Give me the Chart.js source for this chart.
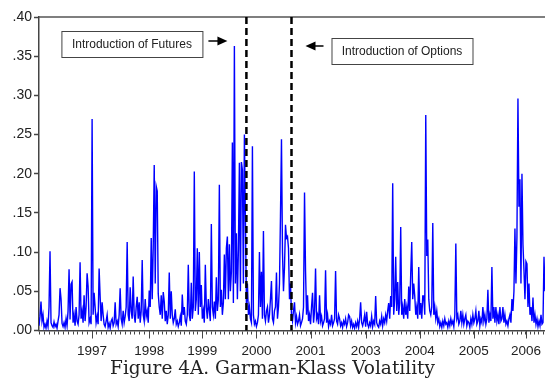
<!DOCTYPE html>
<html>
<head>
<meta charset="utf-8">
<script src="https://cdn.jsdelivr.net/npm/chart.js@4.4.1/dist/chart.umd.min.js"></script>
<style>
  body { margin: 0; background: #fff; }
  canvas { display: block; }
</style>
</head>
<body>
<canvas id="volChart" width="545" height="379"></canvas>
<script>
// Garman-Klass volatility, one value per sample (1996 - 2006)
const volatility = [
    // 1996
    .006,.018,.037,.012,.020,.004,.008,.003,.012,.005,
    .030,.101,.010,.006,.004,.011,.005,.008,.003,.012,
    .020,.054,.040,.009,.005,.010,.004,.015,.006,.025,
    .078,.014,.059,.062,.010,.020,.006,.030,.012,.008,
    .020,.087,.015,.025,.010,.045,.012,.030,.073,.056,
    .010,.015,.008,
    // 1997
    .270,.020,.048,.030,.010,.018,.008,
    .079,.044,.012,.036,
    .020,.008,.005,.012,.020,.004,.009,.003,.012,.015,
    .006,.010,.036,.008,.012,.005,.020,.054,.015,.008,
    .025,.010,.018,.030,.113,.020,.012,.055,.025,.015,
    .069,.020,.010,.030,.043,.015,.036,.010,.025,.090,
    .020,.012,.040,.018,.025,.010,.051,
    // 1998
    .030,.118,.040,
    .107,.211,.060,.184,.178,.047,.030,.020,.045,.015,
    .049,
    .037,.012,.025,.008,.020,.074,.015,.050,.020,.010,
    .015,.027,.008,.012,.005,.010,.018,.006,.046,.020,
    .030,.012,.008,.020,.084,.020,.012,.061,.015,.030,
    .203,.025,.040,.105,.020,.100,.030,.058,.015,.025,
    // 1999
    .010,.084,.030,.015,.040,.025,.012,.136,.030,.020,
    .037,.015,.068,.025,.040,.186,.030,.052,.020,.035,
    .097,.040,.105,
    .120,.040,.110,.050,.075,.240,.035,.363,.060,.124,
    .040,.103,.214,.050,.215,.205,.060,.250,.140,.035,
    .060,.020,.030,.015,.010,.235,.020,.008,.012,.005,
    // 2000
    .010,.020,.100,.030,.075,.015,.127,.020,.012,.025,
    .030,.010,.020,.040,.063,.015,.010,.025,.030,.074,
    .015,.030,.060,.146,.244,.100,.050,.080,.135,.118,
    .120,
    .105,.040,.060,.020,.012,.025,.036,.010,.018,.008,
    .012,.020,.006,.010,.015,.030,.176,.077,.020,.045,
    .012,.020,.008,.030,.048,.010,.025,.079,.015,.020,
    // 2001
    .008,.045,.012,.018,.006,.010,.015,.077,.010,.020,
    .005,.012,.008,.020,.006,.010,.015,.076,.012,.008,
    .020,.015,.006,.010,.004,.012,.008,.015,.005,.010,
    .020,.018,.006,
    .012,.004,.008,.003,.010,.005,.012,.004,.015,.036,
    .010,.006,.012,.020,.005,.024,.008,.004,.010,.006,
    // 2003
    .018,.005,.012,.008,.044,.010,.006,.004,.012,.008,
    .018,.006,.015,.010,.020,.012,.025,.035,.015,.044,
    .030,.188,.020,.040,.094,.025,.062,.020,.035,.132,
    .020,.030,.015,.040,.020,.030,.015,.056,.025,.073,
    .113,
    .040,.060,.044,.020,.030,.015,.081,.020,.035,.015,
    // 2004
    .044,.044,.020,.275,.095,.116,.040,.025,.020,.030,
    .137,.020,.030,.015,.025,.010,.015,.005,.010,.004,
    .012,.006,.015,.008,.010,.004,.012,.006,.015,.008,
    .012,.005,.020,.111,.015,.020,.008,.012,.025,.010,
    .020,.008,.015,.020,.006,.012,.010,.004,.015,.008,
    .020,.010,
    // 2005
    .015,.025,.008,.012,.025,.006,.015,.010,.030,.012,
    .020,.008,.015,.052,.010,.020,.012,.081,.015,.030,
    .010,.030,.012,.020,.008,.030,.012,.015,.030,.010,
    .020,.008,.012,.006,.015,.020,.010,.040,.025,.050,
    .130,.060,.120,.296,.158,.193,.060,.200,.110,.077,
    .040,.088,.085,.030,.060,.020,.030,.012,.042,.010,
    // 2006
    .020,.008,.015,.005,.012,.006,.020,.008,.010,.094,
    .050
];

// year labels on the time axis and the sample index where each year starts
const yearLabels = ['1997', '1998', '1999', '2000', '2001', '2003', '2004', '2005', '2006'];
const yearTickIndex = [53, 110, 163, 217, 271, 326, 380, 434, 486];

// sample index of the two events
const futuresIndex = 207;
const optionsIndex = 252;

const yTicks = [0, .05, .10, .15, .20, .25, .30, .35, .40];

const titleText = 'Figure 4A. Garman-Klass Volatility';
const futuresText = 'Introduction of Futures';
const optionsText = 'Introduction of Options';

const lastIndex = volatility.length - 1;

// monthly tick marks between the year ticks
function buildMonthTicks() {
    const ticks = [];
    const first = (yearTickIndex[1] - yearTickIndex[0]) / 12;
    for (let v = yearTickIndex[0] - first; v > 0; v -= first) ticks.unshift(v);
    for (let y = 0; y < yearTickIndex.length - 1; y++) {
        const step = (yearTickIndex[y + 1] - yearTickIndex[y]) / 12;
        for (let m = 0; m < 12; m++) ticks.push(yearTickIndex[y] + m * step);
    }
    const last = (yearTickIndex[yearTickIndex.length - 1] - yearTickIndex[yearTickIndex.length - 2]) / 12;
    for (let v = yearTickIndex[yearTickIndex.length - 1]; v < lastIndex; v += last) ticks.push(v);
    return ticks;
}

const monthTicks = buildMonthTicks();

function drawArrow(ctx, x1, x2, y) {
    const dir = Math.sign(x2 - x1);
    ctx.beginPath();
    ctx.moveTo(x1, y);
    ctx.lineTo(x2 - dir * 7, y);
    ctx.stroke();
    ctx.beginPath();
    ctx.moveTo(x2, y);
    ctx.lineTo(x2 - dir * 10, y - 4.5);
    ctx.lineTo(x2 - dir * 10, y + 4.5);
    ctx.closePath();
    ctx.fill();
}

function drawNote(ctx, text, x, y, w, h) {
    ctx.fillStyle = '#fff';
    ctx.fillRect(x, y, w, h);
    ctx.strokeStyle = '#444';
    ctx.lineWidth = 1;
    ctx.strokeRect(x + 0.5, y + 0.5, w, h);
    ctx.fillStyle = '#222';
    ctx.font = '12px "Liberation Sans", Arial, sans-serif';
    ctx.textAlign = 'center';
    ctx.textBaseline = 'middle';
    ctx.fillText(text, x + w / 2, y + h / 2 + 1);
}

const overlay = {
    id: 'overlay',
    afterDatasetsDraw(chart) {
        const ctx = chart.ctx;
        const area = chart.chartArea;
        const x = chart.scales.x;
        ctx.save();

        // frame line on top
        ctx.strokeStyle = '#555';
        ctx.lineWidth = 1.5;
        ctx.beginPath();
        ctx.moveTo(area.left, area.top);
        ctx.lineTo(area.right, area.top);
        ctx.stroke();

        // longer ticks at year starts
        ctx.strokeStyle = '#444';
        ctx.lineWidth = 1;
        yearTickIndex.forEach(v => {
            const px = Math.round(x.getPixelForValue(v)) + 0.5;
            ctx.beginPath();
            ctx.moveTo(px, area.bottom);
            ctx.lineTo(px, area.bottom + 8);
            ctx.stroke();
        });

        // event lines
        ctx.strokeStyle = '#000';
        ctx.lineWidth = 2.5;
        ctx.setLineDash([7, 4]);
        [futuresIndex, optionsIndex].forEach(v => {
            const px = x.getPixelForValue(v);
            ctx.beginPath();
            ctx.moveTo(px, area.top);
            ctx.lineTo(px, area.bottom);
            ctx.stroke();
        });
        ctx.setLineDash([]);

        // notes with arrows
        const fx = x.getPixelForValue(futuresIndex);
        const ox = x.getPixelForValue(optionsIndex);
        drawNote(ctx, futuresText, fx - 185, area.top + 14, 141, 26);
        drawNote(ctx, optionsText, ox + 40, area.top + 21, 141, 26);
        ctx.fillStyle = '#000';
        ctx.strokeStyle = '#000';
        ctx.lineWidth = 1.5;
        drawArrow(ctx, fx - 38, fx - 19, area.top + 24);
        drawArrow(ctx, ox + 32, ox + 14, area.top + 29);

        ctx.restore();
    }
};

const ctx = document.getElementById('volChart').getContext('2d');

new Chart(ctx, {
    type: 'line',
    data: {
        datasets: [{
            data: volatility.map((v, i) => ({ x: i, y: v })),
            borderColor: '#0000ff',
            borderWidth: 1.4,
            pointRadius: 0,
            tension: 0
        }]
    },
    options: {
        responsive: false,
        animation: false,
        layout: { padding: { top: 17, right: 0, left: 0, bottom: 0 } },
        plugins: {
            legend: { display: false },
            tooltip: { enabled: false },
            title: {
                display: true,
                position: 'bottom',
                text: titleText,
                color: '#222',
                font: { family: '"DejaVu Serif", serif', size: 18.5, weight: 'normal', lineHeight: 1 },
                padding: { top: 1, bottom: 1 }
            }
        },
        scales: {
            x: {
                type: 'linear',
                min: 0,
                max: lastIndex,
                afterBuildTicks: scale => {
                    scale.ticks = monthTicks.map(v => ({ value: v }));
                },
                afterFit: scale => {
                    scale.height = 28;
                    scale.paddingLeft = 0;
                    scale.paddingRight = 0;
                },
                ticks: {
                    autoSkip: false,
                    maxRotation: 0,
                    padding: 9,
                    color: '#222',
                    font: { family: '"Liberation Sans", Arial, sans-serif', size: 13.5 },
                    callback: value => {
                        const k = yearTickIndex.indexOf(value);
                        return k >= 0 ? yearLabels[k] : '';
                    }
                },
                grid: { drawOnChartArea: false, tickLength: 4, tickColor: '#444', tickWidth: 1 },
                border: { color: '#444', width: 1.5 }
            },
            y: {
                min: 0,
                max: 0.4,
                afterBuildTicks: scale => {
                    scale.ticks = yTicks.map(v => ({ value: v }));
                },
                afterFit: scale => { scale.width = 39; },
                ticks: {
                    padding: 2,
                    color: '#222',
                    font: { family: '"Liberation Sans", Arial, sans-serif', size: 14 },
                    callback: value => value.toFixed(2).replace(/^0/, '')
                },
                grid: { drawOnChartArea: false, tickLength: 5, tickColor: '#444', tickWidth: 1.5 },
                border: { color: '#444', width: 1.5 }
            }
        }
    },
    plugins: [overlay]
});
</script>
</body>
</html>
